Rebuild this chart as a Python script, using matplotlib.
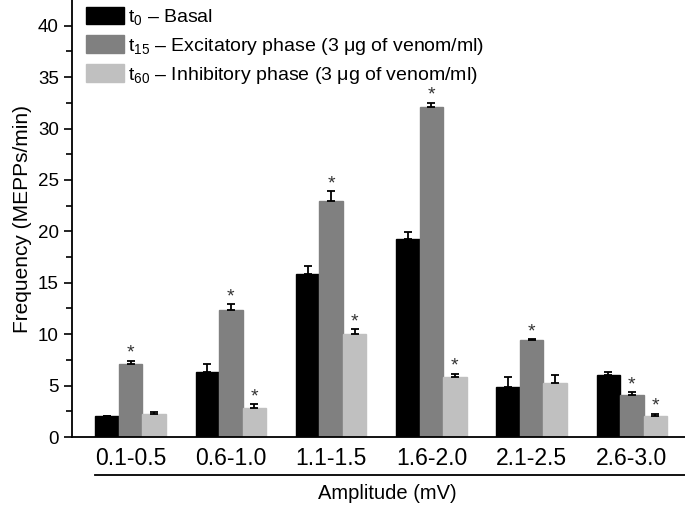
import numpy as np
import matplotlib.pyplot as plt

plt.rcParams['font.family'] = ['Liberation Sans', 'DejaVu Sans']
plt.rcParams['mathtext.fontset'] = 'custom'
plt.rcParams['mathtext.rm'] = 'Liberation Sans'
plt.rcParams['mathtext.it'] = 'Liberation Sans'

groups = ['0.1-0.5', '0.6-1.0', '1.1-1.5', '1.6-2.0', '2.1-2.5', '2.6-3.0']

basal = [2.0, 6.35, 15.85, 19.25, 4.85, 6.0]
basal_err = [0.0, 0.8, 0.8, 0.65, 0.95, 0.35]
excit = [7.1, 12.35, 23.0, 32.05, 9.45, 4.05]
excit_err = [0.3, 0.55, 0.9, 0.45, 0.07, 0.3]
inhib = [2.2, 2.85, 10.0, 5.8, 5.3, 2.05]
inhib_err = [0.2, 0.35, 0.5, 0.35, 0.7, 0.2]

# significance marks (* above bar)
excit_sig = [True, True, True, True, True, True]
inhib_sig = [False, True, True, True, False, True]

labels = [r't$_0$ – Basal',
          r't$_{15}$ – Excitatory phase (3 μg of venom/ml)',
          r't$_{60}$ – Inhibitory phase (3 μg of venom/ml)']
colors = ['#000000', '#808080', '#c0c0c0']

fig = plt.figure(figsize=(6.85, 5.07), dpi=100)
ax = fig.add_axes([0.105, 0.138, 0.895, 0.862])

x = np.arange(len(groups))
w = 0.235
series = [(basal, basal_err), (excit, excit_err), (inhib, inhib_err)]
for k, (vals, errs) in enumerate(series):
    pos = x + (k - 1) * w
    ax.bar(pos, vals, w, color=colors[k], edgecolor=colors[k], label=labels[k], zorder=2)
    ax.errorbar(pos, vals, yerr=[np.zeros(len(errs)), errs], fmt='none',
                ecolor='black', elinewidth=1.3, capsize=3.2, capthick=1.3, zorder=3)

for i in range(len(groups)):
    if excit_sig[i]:
        ax.text(x[i], excit[i] + excit_err[i] - 0.1, '*', ha='center', va='bottom',
                fontsize=14, color='#333333')
    if inhib_sig[i]:
        ax.text(x[i] + w, inhib[i] + inhib_err[i] - 0.1, '*', ha='center', va='bottom',
                fontsize=14, color='#333333')

ax.set_xlim(-0.586, 5.53)
ax.set_ylim(0, 42.5)
ax.set_xticks(x)
ax.set_xticklabels(groups, fontsize=16.5)
ax.tick_params(axis='x', length=0, pad=7)
ax.set_yticks(np.arange(0, 41, 5))
ax.set_yticks(np.arange(0, 42.5, 2.5), minor=True)
ax.tick_params(axis='y', which='major', length=6, width=1.2, labelsize=13.5)
ax.tick_params(axis='y', which='minor', length=4, width=1.2)
ax.spines['top'].set_visible(False)
ax.spines['right'].set_visible(False)
ax.spines['left'].set_linewidth(1.3)
ax.spines['bottom'].set_linewidth(1.3)
ax.set_ylabel('Frequency (MEPPs/min)', fontsize=15)

# line under the group labels
fig.add_artist(plt.Line2D([0.139, 1.0], [0.063, 0.063], color='black', lw=1.3))
fig.text(0.565, 0.027, 'Amplitude (mV)', ha='center', va='center', fontsize=14.5)

ax.legend(loc='upper left', bbox_to_anchor=(0.0, 1.015), frameon=False, fontsize=14,
          handlelength=2.0, handleheight=1.0, handletextpad=0.2, labelspacing=0.4,
          borderaxespad=0.3)

fig.savefig('out.png', dpi=100)
